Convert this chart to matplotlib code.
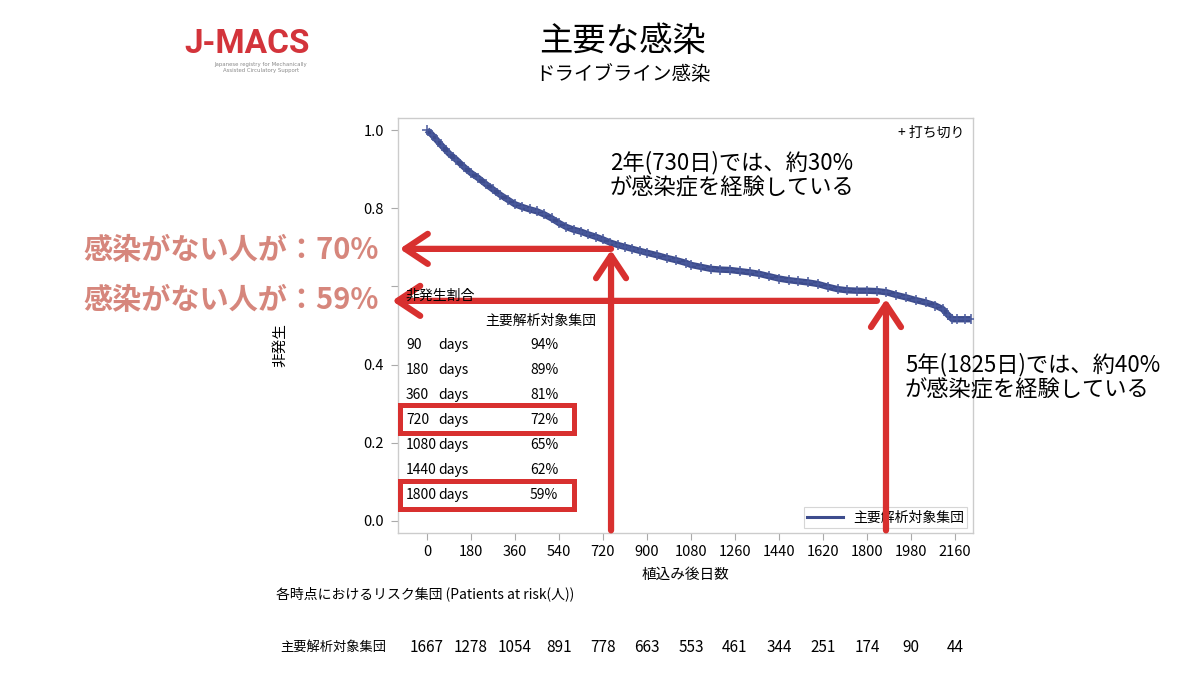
import matplotlib
matplotlib.use("Agg")
import matplotlib.pyplot as plt
from matplotlib.lines import Line2D
from matplotlib.patches import Rectangle
from matplotlib.transforms import blended_transform_factory

plt.rcParams['font.family'] = ['Noto Sans CJK JP', 'DejaVu Sans']

# ---- data ----
km_days = [0, 20, 40, 60, 90, 120, 150, 180, 210, 240, 270, 300, 330, 360, 390, 420,
           450, 480, 510, 540, 570, 600, 630, 660, 690, 720, 750, 780, 810, 840, 870,
           900, 940, 980, 1020, 1060, 1080, 1120, 1160, 1200, 1240, 1280, 1320, 1360,
           1400, 1440, 1480, 1520, 1560, 1600, 1640, 1680, 1720, 1760, 1800, 1840,
           1880, 1920, 1960, 2000, 2040, 2080, 2110, 2130, 2150, 2170, 2200, 2225]
km_surv = [1.0, 0.988, 0.974, 0.960, 0.94, 0.924, 0.906, 0.89, 0.877, 0.862, 0.848,
           0.834, 0.822, 0.81, 0.803, 0.797, 0.792, 0.784, 0.774, 0.762, 0.752, 0.745,
           0.740, 0.733, 0.727, 0.72, 0.712, 0.706, 0.701, 0.696, 0.691, 0.686, 0.680,
           0.673, 0.667, 0.660, 0.655, 0.650, 0.645, 0.643, 0.642, 0.639, 0.636, 0.632,
           0.626, 0.620, 0.616, 0.613, 0.610, 0.606, 0.599, 0.593, 0.590, 0.589, 0.589,
           0.588, 0.585, 0.578, 0.572, 0.565, 0.559, 0.551, 0.542, 0.528, 0.516, 0.516,
           0.516, 0.516]

table_days = [90, 180, 360, 720, 1080, 1440, 1800]
table_pct = [94, 89, 81, 72, 65, 62, 59]

risk_times = [0, 180, 360, 540, 720, 900, 1080, 1260, 1440, 1620, 1800, 1980, 2160]
risk_counts = [1667, 1278, 1054, 891, 778, 663, 553, 461, 344, 251, 174, 90, 44]

y_ticks = [0.0, 0.2, 0.4, 0.6, 0.8, 1.0]
y_tick_labels = ['0.0', '0.2', '0.4', '', '0.8', '1.0']  # 0.6 hidden under the overlay text

group_name = '主要解析対象集団'

W, H = 1200, 675
fig = plt.figure(figsize=(12, 6.75), dpi=100)
fig.patch.set_facecolor('white')

def fx(x):
    return x / W

def fy(y):
    return 1 - y / H

ax = fig.add_axes([fx(398), fy(533), fx(973) - fx(398), fy(118) - fy(533)])
ax.set_xlim(-118.7, 2234)
ax.set_ylim(-0.0307, 1.0307)

curve_color = '#3d4c8d'
ax.plot(km_days, km_surv, color=curve_color, lw=4.6, solid_capstyle='butt', zorder=3)
ax.plot(km_days, km_surv, ls='none', marker='+', ms=7.5, mew=1.1, color='#4a5a9c', zorder=3)

ax.set_xticks(risk_times)
ax.set_xticklabels([str(t) for t in risk_times], fontsize=10.5)
ax.set_yticks(y_ticks)
ax.set_yticklabels(y_tick_labels, fontsize=10.5)
ax.tick_params(axis='both', colors='#aaaaaa', labelcolor='black', length=5, width=0.8)
ax.tick_params(axis='x', pad=4)
ax.tick_params(axis='y', pad=5)
for s in ax.spines.values():
    s.set_color('#cccccc')
    s.set_linewidth(1)

ax.set_xlabel('植込み後日数', fontsize=10.5, labelpad=6)
fig.text(fx(280), fy(345), '非発生', rotation=90, ha='center', va='center', fontsize=10.5)

ax.text(0.985, 0.965, '+ 打ち切り', transform=ax.transAxes, ha='right', va='center', fontsize=10)

leg = ax.legend(handles=[Line2D([], [], color=curve_color, lw=2.2)], labels=[group_name],
                loc='lower right', bbox_to_anchor=(0.995, 0.005), frameon=True,
                fancybox=False, edgecolor='#cccccc', fontsize=10, handlelength=2.6,
                borderpad=0.25, handletextpad=0.7, borderaxespad=0.2)
leg.get_frame().set_linewidth(0.8)

# inset table
fig.text(fx(405), fy(296), '非発生割合', ha='left', va='center', fontsize=10)
fig.text(fx(541), fy(321), group_name, ha='center', va='center', fontsize=10)
for i, (d, p) in enumerate(zip(table_days, table_pct)):
    yy = fy(345 + 25 * i)
    fig.text(fx(406), yy, str(d), ha='left', va='center', fontsize=10)
    fig.text(fx(438), yy, 'days', ha='left', va='center', fontsize=10)
    fig.text(fx(530), yy, f'{p}%', ha='left', va='center', fontsize=10)

# risk table
fig.text(fx(276), fy(594), '各時点におけるリスク集団 (Patients at risk(人))', ha='left', va='center', fontsize=10)
fig.text(fx(280), fy(647), group_name, ha='left', va='center', fontsize=9.5)
btr = blended_transform_factory(ax.transData, fig.transFigure)
for t, c in zip(risk_times, risk_counts):
    ax.text(t, fy(647), str(c), transform=btr, ha='center', va='center', fontsize=11, clip_on=False)

# titles and logo
fig.text(fx(623), fy(42), '主要な感染', ha='center', va='center', fontsize=24)
fig.text(fx(623), fy(75), 'ドライブライン感染', ha='center', va='center', fontsize=14)
fig.text(fx(184), fy(53), 'J-MACS', ha='left', va='baseline', fontsize=24, fontweight='bold',
         color='#d3343b', family=['Roboto', 'DejaVu Sans'])
fig.text(fx(261), fy(62), 'Japanese registry for Mechanically\nAssisted Circulatory Support',
         ha='center', va='top', multialignment='center', linespacing=1.15,
         fontsize=3.9, color='#8a8a8a', family=['DejaVu Sans'])

# annotations
red = '#d8302f'
arrow_kw = dict(arrowstyle='->,head_length=0.9,head_width=0.6', color=red, lw=4.5,
                mutation_scale=18, shrinkA=0, shrinkB=0)
ann_day_1, ann_s_1 = 753, 0.696
ann_day_2, ann_s_2 = 1878, 0.563
ax.annotate('', xy=(-112, ann_s_1), xytext=(ann_day_1, ann_s_1), arrowprops=arrow_kw,
            annotation_clip=False, zorder=6)
ax.annotate('', xy=(ann_day_1, ann_s_1 - 0.003), xytext=(ann_day_1, -0.024), arrowprops=arrow_kw,
            annotation_clip=False, zorder=6)
ax.annotate('', xy=(-143, ann_s_2), xytext=(1841, ann_s_2), arrowprops=arrow_kw,
            annotation_clip=False, zorder=6)
ax.annotate('', xy=(ann_day_2, ann_s_2 + 0.005), xytext=(ann_day_2, -0.024), arrowprops=arrow_kw,
            annotation_clip=False, zorder=6)

for (x0, y0, x1, y1) in [(400, 405, 574, 433), (400, 481, 574, 509)]:
    fig.patches.append(Rectangle((fx(x0), fy(y1)), fx(x1) - fx(x0), fy(y0) - fy(y1),
                                 transform=fig.transFigure, fill=False, edgecolor=red, lw=3.6))

pink = '#d6867c'
fig.text(fx(379), fy(250), '感染がない人が：70%', ha='right', va='center', fontsize=21,
         fontweight='bold', color=pink)
fig.text(fx(379), fy(300), '感染がない人が：59%', ha='right', va='center', fontsize=21,
         fontweight='bold', color=pink)

fig.text(fx(610), fy(163), '2年(730日)では、約30%', ha='left', va='center', fontsize=16)
fig.text(fx(610), fy(188), 'が感染症を経験している', ha='left', va='center', fontsize=16)
fig.text(fx(905), fy(365), '5年(1825日)では、約40%', ha='left', va='center', fontsize=16)
fig.text(fx(905), fy(390), 'が感染症を経験している', ha='left', va='center', fontsize=16)

fig.savefig('out.png', dpi=100, facecolor='white')
